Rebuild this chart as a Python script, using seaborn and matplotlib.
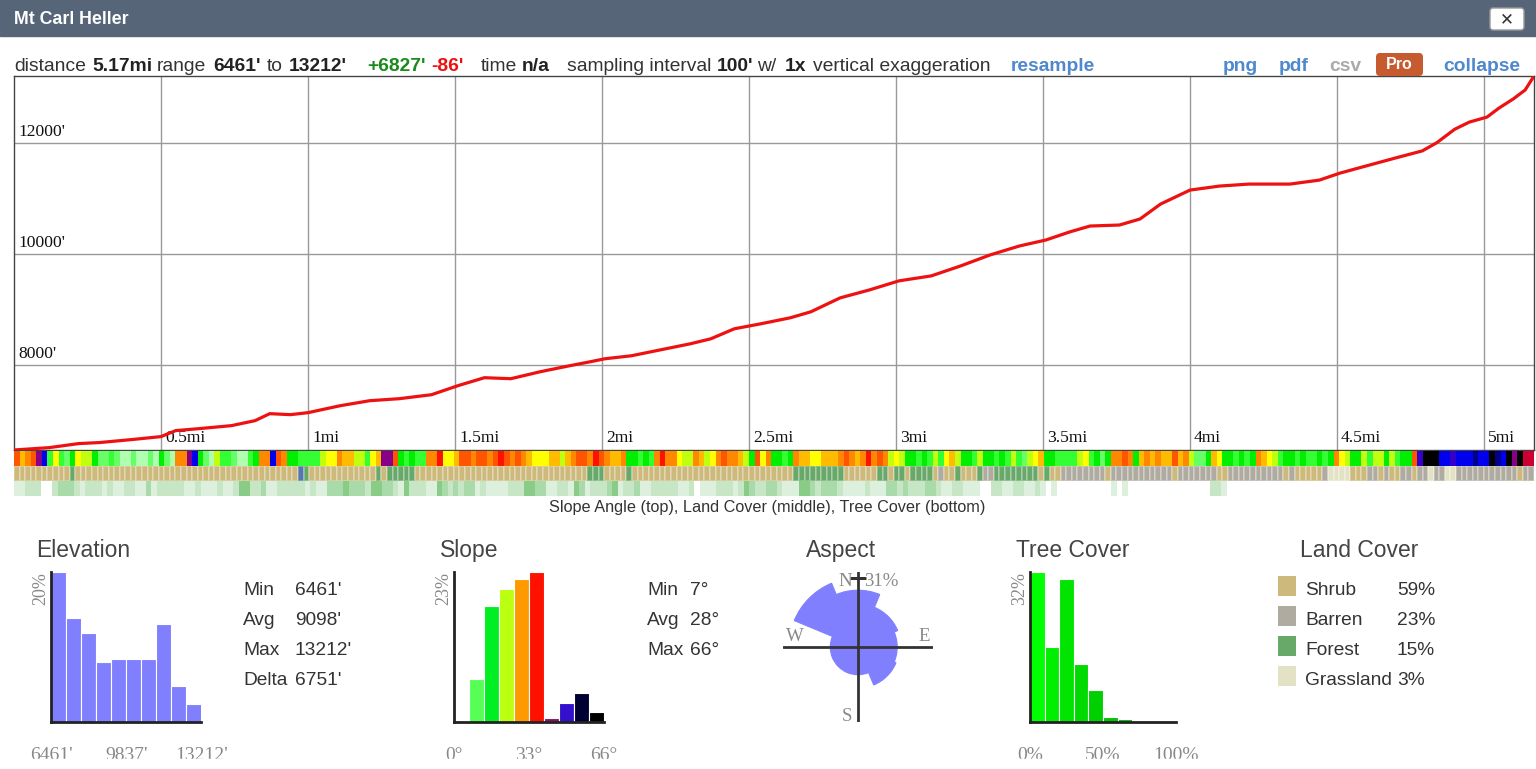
import matplotlib
matplotlib.use("Agg")
import matplotlib.pyplot as plt
import numpy as np
import seaborn as sns
from matplotlib.colors import ListedColormap
from matplotlib.patches import Rectangle, FancyBboxPatch
from matplotlib.transforms import IdentityTransform

sns.set_style("white")
plt.rcParams['font.family'] = ['Liberation Sans', 'DejaVu Sans']
SERIF = ['Liberation Serif', 'DejaVu Serif']

W, H = 1536, 769

# elevation profile (miles, feet)
dist_mi = [0.0, 0.12, 0.22, 0.29, 0.4, 0.5, 0.55, 0.63, 0.74, 0.82, 0.87, 0.94, 1.0,
           1.11, 1.21, 1.31, 1.42, 1.51, 1.6, 1.69, 1.79, 1.89, 1.96, 2.01, 2.1, 2.2,
           2.3, 2.37, 2.45, 2.54, 2.64, 2.71, 2.81, 2.91, 3.01, 3.12, 3.22, 3.32, 3.42,
           3.51, 3.59, 3.66, 3.76, 3.83, 3.9, 4.0, 4.1, 4.2, 4.34, 4.44, 4.51, 4.61,
           4.71, 4.79, 4.84, 4.9, 4.95, 5.01, 5.05, 5.1, 5.14, 5.17]
elev_ft = [6461, 6504, 6577, 6595, 6649, 6703, 6811, 6847, 6901, 6991, 7117, 7099, 7135,
           7261, 7351, 7387, 7459, 7622, 7766, 7748, 7874, 7982, 8054, 8108, 8162, 8270,
           8378, 8468, 8649, 8739, 8847, 8955, 9207, 9351, 9514, 9604, 9784, 9982, 10144,
           10252, 10396, 10504, 10522, 10631, 10901, 11153, 11225, 11261, 11261, 11333, 11459, 11604,
           11748, 11860, 12010, 12250, 12380, 12470, 12630, 12800, 12960, 13212]

x_ticks = [0.5, 1, 1.5, 2, 2.5, 3, 3.5, 4, 4.5, 5]
x_labels = ["0.5mi", "1mi", "1.5mi", "2mi", "2.5mi", "3mi", "3.5mi", "4mi", "4.5mi", "5mi"]
y_ticks = [8000, 10000, 12000]
y_labels = ["8000'", "10000'", "12000'"]

# strips: one code per 100' sample
slope_codes = ("roOrpBgYgbGYyyGbbgbaabaabaGbaOOpBGbayggbaagGOOBrOGGggggyYYOooyygYopp"
               "rGgGggOORYYorrOrrOrRrOrOoYYYooyoOrrORrOooOGGgGgOROOYyyOoyYOrOOoyGrYO"
               "GGgGOooYYoooOrOoOROrOyYyGGgGgygYoyGGgyGGgGgygbyYoGGggggyYgGbGOOrOGoO"
               "oOooroOybbGoYGGgGgGOoYygGGgGggGgGOYyGGygyyGygGGrvkkkBBvBBBnBBknBkpkmm")
land_codes = ("ssssssssss" "f" "ssssssssssssssssssssssssssssssssssssssss" "wf" "ssssssssssss" "fsf"
              "ffff" "sssssssssssssssssssssssssssssss" "fff" "ssss" "f" "sssssssssssssssssssssssss"
              "ssss" "fffffffff" "ssssss" "ff" "s" "ff" "s" "ffff" "s" "x" "ss" "f" "sss" "f" "xx"
              "ffffffff" "s" "f" "ss" "xxxxxxxx" "s" "xxxxxxx"
              "xxxx" "s" "xxxxxxx" "ss" "xxxxxxxxxx" "s" "x" "sssss" "x" "eeee" "sss" "xx" "s" "x"
              "ss" "xx" "s" "xx" "e" "xx" "ee" "xxxxxxxxxxx" "s" "xx")
tree_codes = ("11222002333212221211" "22113122222112111211" "24422311222221211333" "43332443" "3214"
              "22211432323312111122" "24433112214312223412" "23112222211201112221" "24322332"
              "11144323332111121113" "32322233211221110022" "11221121010000000000" "10100000"
              "0000000000221" "00000000000000000000000000000000000000000000000000000000")

slope_colors = {'a': '#b0ffb0', 'b': '#66ff66', 'g': '#33ff33', 'G': '#00ee00', 'y': '#c0ff10',
                'Y': '#ffff00', 'o': '#ffbb00', 'O': '#ff8800', 'r': '#ff5500', 'R': '#ff1100',
                'p': '#880088', 'v': '#3300cc', 'B': '#0000ee', 'n': '#000088', 'k': '#000000',
                'm': '#cc0033'}
land_colors = {'s': '#cdb97c', 'x': '#b0aba0', 'f': '#68a868', 'e': '#e4e2c4', 'w': '#5577aa'}
tree_colors = {'0': '#ffffff', '1': '#ddf0dd', '2': '#c6e6c6', '3': '#a9daa9', '4': '#88cc88'}

# histograms
elev_bins = ["6461", "7136", "7811", "8486", "9162", "9837", "10512", "11187", "11862", "12537"]
elev_pct = [20, 13.8, 11.9, 7.9, 8.3, 8.3, 8.3, 13.0, 4.7, 2.4]
slope_bins = ["0", "7", "13", "20", "26", "33", "40", "46", "53", "59"]
slope_pct = [0, 6.5, 17.8, 20.4, 21.9, 23, 0.6, 2.9, 4.4, 1.4]
slope_bar_colors = ['#55ff55', '#55ff55', '#00ee22', '#bbff11', '#ff9900', '#ff1100',
                    '#881166', '#3311cc', '#000033', '#000000']
tree_bins = ["0", "10", "20", "30", "40", "50", "60", "70", "80", "90"]
tree_pct = [32, 15.9, 30.6, 12.3, 6.8, 1.0, 0.6, 0, 0, 0]
tree_bar_colors = ['#00ff00', '#00ee00', '#00e400', '#00da00', '#00cf00', '#00c400',
                   '#00ba00', '#00b000', '#00a800', '#00a000']

aspect_dirs = [0, 45, 90, 135, 180, 225, 270, 315]
aspect_pct = [21, 12, 10, 11, 5, 5, 5, 31]

land_names = ["Shrub", "Barren", "Forest", "Grassland"]
land_pct = ["59%", "23%", "15%", "3%"]
land_swatch = ['#cdb97c', '#b0aba0', '#68a868', '#e4e2c4']


def px(x0, y0, x1, y1):
    return [x0 / W, 1 - y1 / H, (x1 - x0) / W, (y1 - y0) / H]


def ftext(x, y, s, **kw):
    fig.text(x / W, 1 - y / H, s, **kw)


fig = plt.figure(figsize=(W / 100, H / 100), dpi=100)

# header bar
fig.add_artist(Rectangle((0, 1 - 36 / H), 1, 36 / H, transform=fig.transFigure,
                         color='#576579', zorder=0))
ftext(14, 24, "Mt Carl Heller", color='white', fontsize=12.8, fontweight='bold', va='baseline')
fig.add_artist(FancyBboxPatch((1490, H - 30), 34, 22, boxstyle="round,pad=0,rounding_size=3",
                              transform=IdentityTransform(), fc='white', ec='#999999', lw=1))
ftext(1507, 19, "\u2715", color='#333333', fontsize=12, fontweight='bold', ha='center',
      va='center', family=['DejaVu Sans'])

# info line
info = [(14, "distance", '#333333', 'normal'), (92, "5.17mi", '#222222', 'bold'),
        (157, "range", '#333333', 'normal'), (213, "6461'", '#222222', 'bold'),
        (267, "to", '#333333', 'normal'), (289, "13212'", '#222222', 'bold'),
        (367, "+6827'", '#1a8a1a', 'bold'), (431, "-86'", '#ee1111', 'bold'),
        (481, "time", '#333333', 'normal'), (522, "n/a", '#222222', 'bold'),
        (567, "sampling interval", '#333333', 'normal'), (717, "100'", '#222222', 'bold'),
        (757, "w/", '#333333', 'normal'), (785, "1x", '#222222', 'bold'),
        (813, "vertical exaggeration", '#333333', 'normal'), (1011, "resample", '#4f88cc', 'bold'),
        (1223, "png", '#4f88cc', 'bold'), (1279, "pdf", '#4f88cc', 'bold'),
        (1329, "csv", '#aaaaaa', 'bold'), (1443, "collapse", '#4f88cc', 'bold')]
for x, s, c, w in info:
    ftext(x, 71, s, color=c, fontweight=w, fontsize=13.9, va='baseline')
fig.add_artist(FancyBboxPatch((1376, H - 76), 47, 23, boxstyle="round,pad=0,rounding_size=4",
                              transform=IdentityTransform(), fc='#c75b30', ec='none'))
ftext(1399.5, 64.5, "Pro", color='white', fontweight='bold', fontsize=11.5, ha='center', va='center')

# main elevation profile
ax = fig.add_axes(px(14, 76, 1534, 450))
sns.lineplot(x=dist_mi, y=elev_ft, color='#ee1111', lw=2.3, ax=ax, zorder=5)
ax.set_xlim(0, 5.17)
ax.set_ylim(6461, 13212)
ax.set_xticks(x_ticks)
ax.set_yticks(y_ticks)
ax.grid(True, color='#999999', lw=1)
ax.tick_params(length=0, labelbottom=False, labelleft=False)
for sp in ax.spines.values():
    sp.set_color('#444444')
    sp.set_linewidth(1)
for v, lab in zip(y_ticks, y_labels):
    ax.annotate(lab, xy=(0, v), xycoords=('axes fraction', 'data'), xytext=(4, 3),
                textcoords='offset pixels', va='bottom', ha='left', fontsize=12.6,
                family=SERIF, color='#111111')
for v, lab in zip(x_ticks, x_labels):
    ax.annotate(lab, xy=(v, 0), xycoords=('data', 'axes fraction'), xytext=(4, 4),
                textcoords='offset pixels', va='bottom', ha='left', fontsize=12.6,
                family=SERIF, color='#111111')


def strip(y0, y1, codes, palette, lw=0.0, lc='white'):
    keys = list(palette)
    vals = np.array([[keys.index(c) for c in codes]])
    sax = fig.add_axes(px(14, y0, 1534, y1))
    sns.heatmap(vals, cmap=ListedColormap([palette[k] for k in keys]), vmin=-0.5,
                vmax=len(keys) - 0.5, cbar=False, xticklabels=False, yticklabels=False,
                linewidths=lw, linecolor=lc, ax=sax)
    sax.set_axis_off()


strip(451, 466, slope_codes, slope_colors)
strip(466, 481, land_codes, land_colors, lw=0.25, lc=(1, 1, 1, 0.25))
strip(481, 496, tree_codes, tree_colors)
ftext(767, 512, "Slope Angle (top), Land Cover (middle), Tree Cover (bottom)", ha='center',
      va='baseline', fontsize=11.7, color='#333333')

# panel titles
for x, s in [(36, "Elevation"), (440, "Slope"), (806, "Aspect"), (1016, "Tree Cover"),
             (1300, "Land Cover")]:
    ftext(x, 557, s, fontsize=16.5, color='#444444', va='baseline')


def hist(x0, x1, bins, pct, colors, ymax, top_label, tick_labels):
    hax = fig.add_axes(px(x0, 572, x1, 721.5))
    sns.barplot(x=bins, y=pct, hue=bins, palette=colors, legend=False, width=1, saturation=1,
                edgecolor='white', linewidth=0.8, errorbar=None, ax=hax)
    hax.set_xlim(-0.5, len(bins) - 0.5)
    hax.set_ylim(0, ymax)
    hax.set_xticks([])
    hax.set_yticks([])
    hax.set(xlabel='', ylabel='')
    hax.patch.set_alpha(0)
    for s in ['top', 'right']:
        hax.spines[s].set_visible(False)
    for s in ['left', 'bottom']:
        hax.spines[s].set_color('#222222')
        hax.spines[s].set_linewidth(2)
    ftext(x0 - 10, 572, top_label, rotation=90, ha='center', va='top', fontsize=13,
          family=SERIF, color='#888888')
    for xx, lab in zip([x0, (x0 + x1) / 2, x1], tick_labels):
        ftext(xx, 760, lab, ha='center', va='baseline', fontsize=14, family=SERIF,
              color='#888888')


hist(51, 201.5, elev_bins, elev_pct, ['#8080ff'] * 10, 20, "20%", ["6461'", "9837'", "13212'"])
hist(454, 604, slope_bins, slope_pct, slope_bar_colors, 23, "23%", ["0°", "33°", "66°"])
hist(1030, 1176, tree_bins, tree_pct, tree_bar_colors, 32, "32%", ["0%", "50%", "100%"])

# stats
for i, (k, v) in enumerate([("Min", "6461'"), ("Avg", "9098'"), ("Max", "13212'"), ("Delta", "6751'")]):
    ftext(243, 595 + 30 * i, k, fontsize=13.8, color='#333333', va='baseline')
    ftext(295, 595 + 30 * i, v, fontsize=13.8, color='#333333', va='baseline')
for i, (k, v) in enumerate([("Min", "7°"), ("Avg", "28°"), ("Max", "66°")]):
    ftext(647, 595 + 30 * i, k, fontsize=13.8, color='#333333', va='baseline')
    ftext(690, 595 + 30 * i, v, fontsize=13.8, color='#333333', va='baseline')

# aspect rose (area proportional)
pax = fig.add_axes(px(783, 572, 933, 722), projection='polar')
pax.set_theta_zero_location('N')
pax.set_theta_direction(-1)
rmax = np.sqrt(max(aspect_pct)) * 75 / 69
pax.bar(np.deg2rad(aspect_dirs), np.sqrt(aspect_pct), width=np.pi / 4, color='#8080ff',
        edgecolor='#8080ff', lw=0.8)
for t in [0, np.pi / 2, np.pi, 3 * np.pi / 2]:
    pax.plot([t, t], [0, rmax], color='#333333', lw=2, zorder=5)
pax.plot([0], [np.sqrt(max(aspect_pct))], marker='_', ms=12, mew=2, color='#333333', zorder=6)
pax.set_ylim(0, rmax)
pax.grid(False)
pax.set_xticks([])
pax.set_yticks([])
pax.spines['polar'].set_visible(False)
pax.patch.set_alpha(0)
ftext(845, 586, "N", ha='center', va='baseline', fontsize=13.5, family=SERIF, color='#888888')
ftext(864, 586, "31%", ha='left', va='baseline', fontsize=13.5, family=SERIF, color='#888888')
ftext(795, 641, "W", ha='center', va='baseline', fontsize=13.5, family=SERIF, color='#888888')
ftext(924, 641, "E", ha='center', va='baseline', fontsize=13.5, family=SERIF, color='#888888')
ftext(847, 721, "S", ha='center', va='baseline', fontsize=13.5, family=SERIF, color='#888888')

# land cover legend
for i, (n, p, c) in enumerate(zip(land_names, land_pct, land_swatch)):
    y = 576 + 30 * i
    fig.add_artist(Rectangle((1278, H - y - 20), 18, 20, transform=IdentityTransform(),
                             fc=c, ec='none'))
    ftext(1305, 595 + 30 * i, n, fontsize=13.8, color='#333333', va='baseline')
    ftext(1397, 595 + 30 * i, p, fontsize=13.8, color='#333333', va='baseline')

# bottom edge clips the tick labels like the page does
fig.add_artist(Rectangle((0, 0), 1, 10 / H, transform=fig.transFigure, color='white', zorder=10))

fig.savefig("out.png", dpi=100)
